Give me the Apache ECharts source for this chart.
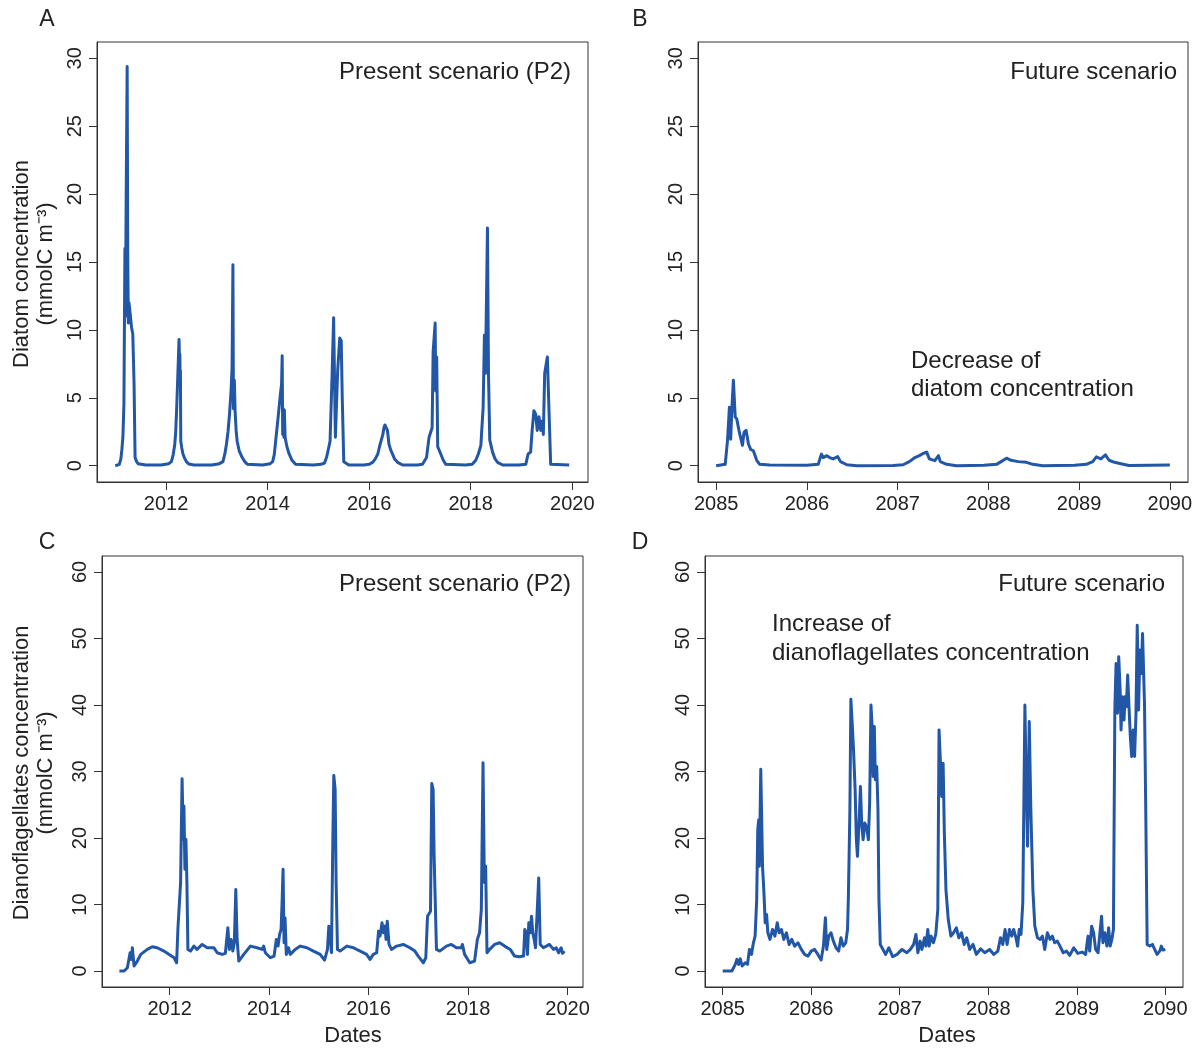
<!DOCTYPE html>
<html>
<head>
<meta charset="utf-8">
<script src="https://cdn.jsdelivr.net/npm/echarts@6.0.0/dist/echarts.min.js"></script>
</head>
<body style="margin:0;background:#fff">
<div id="main" style="width:1198px;height:1052px;"></div>
<script>
// values: [decimal year, mmolC m-3]
var diatomPresent = [
  [2011.0,0],[2011.08,0.1],[2011.11,0.5],[2011.13,1.2],[2011.15,2.1],[2011.17,4.5],[2011.19,16.0],[2011.2,11],[2011.215,20],
  [2011.234,29.4],[2011.245,16],[2011.256,10.5],[2011.27,12],[2011.29,11.3],[2011.32,10.2],[2011.345,9.7],
  [2011.37,6.0],[2011.39,0.6],[2011.42,0.3],[2011.45,0.15],[2011.6,0.05],[2011.9,0.05],
  [2012.05,0.15],[2012.105,0.3],[2012.14,0.8],[2012.17,1.5],[2012.19,2.5],[2012.21,4.3],[2012.235,7.0],[2012.256,9.3],
  [2012.265,7.5],[2012.272,8.2],[2012.278,6.2],[2012.283,7.0],[2012.29,1.8],[2012.31,1.3],[2012.33,0.9],[2012.36,0.6],
  [2012.4,0.3],[2012.45,0.12],[2012.55,0.05],[2012.9,0.05],
  [2013.05,0.15],[2013.12,0.3],[2013.16,0.9],[2013.19,1.6],[2013.22,2.5],[2013.25,3.8],[2013.28,5.5],[2013.30,7.2],[2013.317,14.8],[2013.327,4.2],
  [2013.345,6.3],[2013.36,4.0],[2013.38,2.6],[2013.4,1.8],[2013.44,1.1],[2013.5,0.6],[2013.55,0.3],[2013.6,0.1],[2013.9,0.05],
  [2014.05,0.15],[2014.1,0.3],[2014.13,0.8],[2014.15,1.5],[2014.2,3.3],[2014.25,5.2],[2014.275,6],[2014.287,8.1],
  [2014.297,2.3],[2014.31,4.2],[2014.32,2.1],[2014.33,4.1],[2014.345,2.1],[2014.38,1.4],[2014.42,0.9],[2014.48,0.4],[2014.55,0.1],[2014.9,0.05],
  [2015.05,0.1],[2015.12,0.2],[2015.16,0.6],[2015.19,1.1],[2015.23,1.8],[2015.27,6.7],[2015.30,10.9],[2015.335,2.1],
  [2015.38,7.0],[2015.42,9.4],[2015.45,9.2],[2015.47,5.0],[2015.5,0.3],[2015.6,0.05],[2015.9,0.05],
  [2016.0,0.1],[2016.07,0.25],[2016.12,0.5],[2016.17,0.86],[2016.21,1.5],[2016.24,1.9],[2016.27,2.3],[2016.29,2.8],[2016.31,3.0],[2016.34,2.9],[2016.36,2.6],[2016.39,1.6],
  [2016.42,1.2],[2016.46,0.86],[2016.5,0.5],[2016.56,0.25],[2016.66,0.05],[2016.95,0.05],
  [2017.05,0.1],[2017.13,0.6],[2017.18,2.1],[2017.24,2.8],[2017.26,8.4],[2017.30,10.5],[2017.31,5.5],
  [2017.33,8.0],[2017.35,1.4],[2017.41,0.86],[2017.46,0.4],[2017.51,0.1],[2017.9,0.05],
  [2018.03,0.1],[2018.1,0.4],[2018.15,0.86],[2018.2,1.5],[2018.245,4.3],[2018.27,9.6],[2018.29,6.8],[2018.33,17.5],
  [2018.35,6.8],[2018.375,1.9],[2018.43,1.0],[2018.48,0.5],[2018.53,0.25],[2018.63,0.05],[2018.95,0.05],
  [2019.085,0.1],[2019.13,0.86],[2019.18,1.0],[2019.21,2.6],[2019.245,4.05],[2019.28,3.8],[2019.31,2.6],
  [2019.345,3.6],[2019.38,2.6],[2019.41,3.3],[2019.43,2.3],[2019.457,6.8],[2019.51,8.0],[2019.54,4.3],
  [2019.575,0.1],[2019.94,0.05]
];
var diatomFuture = [
  [2085.0,0],[2085.1,0.1],[2085.125,1.85],[2085.146,4.3],[2085.16,1.95],[2085.176,4.55],[2085.19,6.3],
  [2085.21,3.6],[2085.227,3.45],[2085.256,2.45],[2085.29,1.5],[2085.307,2.45],[2085.33,2.6],[2085.356,1.6],
  [2085.38,1.2],[2085.41,1.1],[2085.43,1.2],[2085.447,0.4],[2085.48,0.1],[2085.59,0.05],[2086.0,0.03],
  [2086.125,0.1],[2086.16,0.85],[2086.18,0.6],[2086.22,0.74],[2086.25,0.6],[2086.29,0.5],[2086.34,0.67],
  [2086.37,0.3],[2086.44,0.07],[2086.55,0.0],[2086.95,0.02],
  [2087.06,0.07],[2087.13,0.3],[2087.19,0.6],[2087.24,0.74],[2087.28,0.9],[2087.32,1.0],[2087.35,0.5],
  [2087.41,0.37],[2087.45,0.74],[2087.47,0.3],[2087.54,0.1],[2087.65,0],[2087.95,0.03],
  [2088.09,0.1],[2088.14,0.3],[2088.2,0.55],[2088.25,0.4],[2088.33,0.3],[2088.42,0.25],[2088.49,0.1],
  [2088.6,0],[2088.95,0.03],
  [2089.08,0.1],[2089.15,0.3],[2089.19,0.65],[2089.24,0.5],[2089.29,0.8],[2089.33,0.4],[2089.39,0.25],
  [2089.46,0.15],[2089.55,0.02],[2090.0,0.05]
];
var dinoPresent = [
  [2010.99,0],[2011.085,0],[2011.15,0.5],[2011.205,2.75],[2011.23,1.75],[2011.25,3.5],[2011.285,0.75],
  [2011.35,1.5],[2011.42,2.5],[2011.55,3.25],[2011.65,3.65],[2011.75,3.5],[2011.885,3.0],[2012.02,2.35],
  [2012.09,2.0],[2012.14,1.25],[2012.167,6.5],[2012.194,6.75],[2012.22,13.3],[2012.25,28.9],[2012.274,19.8],
  [2012.287,24.8],[2012.307,15.3],[2012.327,19.8],[2012.347,13.3],[2012.367,3.25],[2012.42,3.0],
  [2012.487,3.75],[2012.55,3.25],[2012.654,4.0],[2012.755,3.5],[2012.89,3.5],[2012.955,2.75],
  [2013.056,2.5],[2013.12,2.65],[2013.17,6.5],[2013.2,3.25],[2013.236,4.75],[2013.27,3.0],[2013.3,4.25],
  [2013.33,12.25],[2013.356,4.75],[2013.39,1.5],[2013.42,1.25],[2013.49,2.5],[2013.623,3.75],
  [2013.757,3.5],[2013.857,3.25],[2013.89,3.75],[2013.924,2.75],[2014.024,2.0],[2014.1,2.25],
  [2014.145,4.75],[2014.18,3.75],[2014.21,5.5],[2014.24,6.25],[2014.26,10.25],[2014.28,15.3],
  [2014.3,4.25],[2014.32,8.0],[2014.345,2.5],[2014.39,3.5],[2014.425,2.5],[2014.525,3.25],[2014.626,3.75],
  [2014.76,3.5],[2014.89,3.0],[2015.026,2.5],[2015.113,1.65],[2015.173,3.25],[2015.2,6.75],[2015.227,5.25],
  [2015.253,2.75],[2015.28,19.3],[2015.3,29.4],[2015.327,27.3],[2015.347,13.3],[2015.374,3.25],
  [2015.427,3.0],[2015.56,3.75],[2015.695,3.5],[2015.83,3.0],[2015.96,2.5],[2016.028,1.75],[2016.095,2.5],
  [2016.162,2.75],[2016.2,6.0],[2016.23,5.25],[2016.27,7.25],[2016.295,5.75],[2016.33,6.75],[2016.35,4.75],
  [2016.375,7.5],[2016.41,4.0],[2016.46,3.25],[2016.563,3.75],[2016.696,4.0],[2016.83,3.5],[2016.93,3.0],
  [2016.997,2.25],[2017.1,1.25],[2017.15,2.0],[2017.184,8.25],[2017.217,8.5],[2017.244,9.0],[2017.27,28.2],
  [2017.297,27.3],[2017.317,17.3],[2017.337,11.25],[2017.364,3.25],[2017.43,3.0],[2017.564,3.75],
  [2017.664,4.0],[2017.765,3.5],[2017.865,3.5],[2017.885,4.0],[2017.93,2.5],[2018.033,1.25],[2018.13,1.5],
  [2018.186,4.75],[2018.23,5.75],[2018.266,9.25],[2018.3,31.3],[2018.327,13.3],[2018.353,15.8],
  [2018.38,2.75],[2018.433,3.25],[2018.534,4.0],[2018.634,4.25],[2018.734,3.75],[2018.847,3.25],
  [2018.934,2.25],[2019.034,2.15],[2019.115,2.25],[2019.14,6.25],[2019.168,5.75],[2019.194,2.5],
  [2019.22,7.25],[2019.248,5.75],[2019.275,8.25],[2019.3,5.75],[2019.328,4.75],[2019.355,3.5],
  [2019.395,3.75],[2019.42,14.0],[2019.45,4.0],[2019.515,3.5],[2019.635,4.0],[2019.716,3.25],
  [2019.77,3.5],[2019.82,2.75],[2019.87,3.5],[2019.9,2.65],[2019.935,3.0]
];
var dinoFuture = [
  [2085.0,0],[2085.104,0],[2085.142,1.0],[2085.16,1.75],[2085.18,1.0],[2085.198,1.85],[2085.22,0.75],
  [2085.254,1.25],[2085.28,1.0],[2085.302,3.25],[2085.325,2.5],[2085.347,4.25],[2085.366,5.25],
  [2085.384,10.75],[2085.396,21.25],[2085.407,22.75],[2085.414,15.75],[2085.43,30.35],[2085.44,23.25],
  [2085.45,15.75],[2085.466,11.75],[2085.48,7.25],[2085.496,8.5],[2085.51,5.75],[2085.534,4.75],
  [2085.563,6.25],[2085.59,5.25],[2085.616,7.25],[2085.638,5.75],[2085.664,6.25],[2085.69,4.75],
  [2085.72,5.75],[2085.75,4.0],[2085.78,4.75],[2085.813,3.75],[2085.85,4.25],[2085.888,3.25],
  [2085.925,2.5],[2085.963,2.25],[2086.0,3.0],[2086.037,3.25],[2086.075,2.5],[2086.112,1.65],
  [2086.138,3.75],[2086.16,8.0],[2086.175,3.25],[2086.198,5.25],[2086.224,5.75],[2086.25,4.5],
  [2086.28,3.5],[2086.31,3.0],[2086.336,5.0],[2086.362,3.75],[2086.39,4.25],[2086.41,6.25],
  [2086.42,11.25],[2086.437,24.25],[2086.448,40.85],[2086.463,37.25],[2086.478,33.25],[2086.496,27.25],
  [2086.51,19.75],[2086.522,17.25],[2086.54,22.25],[2086.556,27.75],[2086.57,22.25],[2086.586,19.75],
  [2086.604,22.25],[2086.623,21.75],[2086.646,19.75],[2086.66,25.25],[2086.675,40.0],[2086.69,36.25],
  [2086.7,29.25],[2086.713,36.75],[2086.724,28.75],[2086.74,30.75],[2086.754,24.25],[2086.765,10.75],
  [2086.78,4.0],[2086.8,3.5],[2086.84,2.5],[2086.877,3.5],[2086.92,2.15],[2086.97,2.5],[2087.026,3.25],
  [2087.08,2.75],[2087.12,3.25],[2087.157,4.0],[2087.183,5.5],[2087.205,2.75],[2087.23,4.5],
  [2087.25,3.25],[2087.28,5.0],[2087.295,3.75],[2087.317,6.25],[2087.332,3.75],[2087.354,5.25],
  [2087.38,4.25],[2087.407,5.5],[2087.43,9.25],[2087.444,36.25],[2087.46,31.25],[2087.474,26.25],
  [2087.49,31.25],[2087.504,20.75],[2087.522,12.25],[2087.548,7.75],[2087.578,5.25],[2087.608,5.75],
  [2087.64,6.5],[2087.668,5.0],[2087.698,5.75],[2087.728,4.0],[2087.757,5.0],[2087.79,3.25],
  [2087.828,4.0],[2087.866,2.5],[2087.914,3.35],[2087.96,2.75],[2088.015,3.25],[2088.063,2.5],
  [2088.108,3.0],[2088.138,5.0],[2088.164,4.0],[2088.19,6.25],[2088.213,4.0],[2088.24,6.25],
  [2088.265,5.25],[2088.287,6.25],[2088.313,5.0],[2088.332,3.75],[2088.35,6.25],[2088.37,5.5],
  [2088.39,10.25],[2088.414,40.0],[2088.43,27.25],[2088.444,18.75],[2088.463,37.5],[2088.481,24.25],
  [2088.504,12.25],[2088.526,6.75],[2088.556,5.0],[2088.586,4.75],[2088.612,5.25],[2088.638,3.25],
  [2088.668,5.75],[2088.698,4.75],[2088.724,5.25],[2088.75,4.25],[2088.78,4.5],[2088.81,3.75],
  [2088.847,2.75],[2088.884,3.0],[2088.92,2.35],[2088.966,3.5],[2089.011,2.65],[2089.06,2.85],
  [2089.1,2.5],[2089.127,5.25],[2089.146,3.0],[2089.168,6.75],[2089.19,5.75],[2089.213,3.25],
  [2089.24,2.75],[2089.256,2.5],[2089.28,8.25],[2089.295,4.25],[2089.317,5.75],[2089.34,3.75],
  [2089.36,6.5],[2089.377,3.75],[2089.396,4.75],[2089.414,6.25],[2089.43,39.25],[2089.444,46.25],
  [2089.46,38.75],[2089.474,47.25],[2089.49,42.25],[2089.5,36.25],[2089.515,41.25],[2089.534,37.75],
  [2089.545,41.25],[2089.56,39.75],[2089.575,44.5],[2089.59,39.75],[2089.605,35.25],[2089.62,32.25],
  [2089.638,36.25],[2089.653,32.25],[2089.668,38.25],[2089.683,52.0],[2089.698,39.25],[2089.713,48.25],
  [2089.728,44.75],[2089.743,50.75],[2089.758,51.0],[2089.765,40.25],[2089.78,23.25],[2089.795,4.0],
  [2089.825,3.75],[2089.854,4.0],[2089.88,3.25],[2089.907,2.5],[2089.937,3.0],[2089.955,3.75],
  [2089.974,3.15],[2090.0,3.25]
];
var presentTicks = [2012, 2014, 2016, 2018, 2020];
var futureTicks = [2085, 2086, 2087, 2088, 2089, 2090];
var diatomTicks = [0, 5, 10, 15, 20, 25, 30];
var dinoTicks = [0, 10, 20, 30, 40, 50, 60];

var FONT = '"Liberation Sans", Arial, Helvetica, sans-serif';
var TXT = '#222';
var AX = '#333';
var BLUE = '#2256a6';

function xAxis(idx, min, max, ticks) {
  return {
    type: 'value', gridIndex: idx, min: min, max: max,
    axisLine: { show: true, onZero: false, lineStyle: { color: AX, width: 1 } },
    axisTick: { show: true, length: 8, customValues: ticks, lineStyle: { color: AX } },
    axisLabel: { customValues: ticks, margin: 12, fontSize: 20, color: TXT, fontFamily: FONT,
      formatter: function (v) { return String(v); } },
    splitLine: { show: false }
  };
}
function yAxis(idx, min, max, ticks) {
  return {
    type: 'value', gridIndex: idx, min: min, max: max,
    axisLine: { show: true, onZero: false, lineStyle: { color: AX, width: 1 } },
    axisTick: { show: true, length: 8, customValues: ticks, lineStyle: { color: AX } },
    axisLabel: { customValues: ticks, margin: 12, rotate: 90, fontSize: 20, color: TXT, fontFamily: FONT,
      formatter: function (v) { return String(v); } },
    splitLine: { show: false }
  };
}
function line(idx, data) {
  return {
    type: 'line', xAxisIndex: idx, yAxisIndex: idx, data: data,
    showSymbol: false, symbol: 'none', animation: false,
    lineStyle: { color: BLUE, width: 3, join: 'round' }
  };
}
function txt(x, y, s, size, align, rot) {
  return {
    type: 'text', x: x, y: y, rotation: rot || 0,
    style: { text: s, fontSize: size, fontFamily: FONT, fill: TXT,
      align: align, textAlign: align, verticalAlign: 'middle', textVerticalAlign: 'middle' }
  };
}

var gridBase = { show: true, borderColor: AX, borderWidth: 1, backgroundColor: 'transparent', containLabel: false, outerBoundsMode: 'none' };
var grids = [
  Object.assign({ left: 97, top: 42, width: 491, height: 440 }, gridBase),
  Object.assign({ left: 698, top: 42, width: 490, height: 440 }, gridBase),
  Object.assign({ left: 102, top: 556, width: 481, height: 431 }, gridBase),
  Object.assign({ left: 705, top: 556, width: 478, height: 431 }, gridBase)
];

var chart = echarts.init(document.getElementById('main'), null, { renderer: 'canvas' });
chart.setOption({
  backgroundColor: '#fff',
  animation: false,
  grid: grids,
  xAxis: [
    xAxis(0, 2010.64, 2020.31, presentTicks),
    xAxis(1, 2084.8, 2090.2, futureTicks),
    xAxis(2, 2010.64, 2020.31, presentTicks),
    xAxis(3, 2084.8, 2090.2, futureTicks)
  ],
  yAxis: [
    yAxis(0, -1.2, 31.2, diatomTicks),
    yAxis(1, -1.2, 31.2, diatomTicks),
    yAxis(2, -2.4, 62.4, dinoTicks),
    yAxis(3, -2.4, 62.4, dinoTicks)
  ],
  series: [
    line(0, diatomPresent),
    line(1, diatomFuture),
    line(2, dinoPresent),
    line(3, dinoFuture)
  ],
  graphic: [
    txt(47, 20, 'A', 23, 'center'),
    txt(640, 20, 'B', 23, 'center'),
    txt(47, 543, 'C', 23, 'center'),
    txt(640, 543, 'D', 23, 'center'),
    txt(571, 72, 'Present scenario (P2)', 24, 'right'),
    txt(1177, 72, 'Future scenario', 24, 'right'),
    txt(571, 584, 'Present scenario (P2)', 24, 'right'),
    txt(1165, 584, 'Future scenario', 24, 'right'),
    txt(911, 361, 'Decrease of', 24, 'left'),
    txt(911, 389, 'diatom concentration', 24, 'left'),
    txt(772, 624, 'Increase of', 24, 'left'),
    txt(772, 653, 'dianoflagellates concentration', 24, 'left'),
    txt(22, 264, 'Diatom concentration', 22, 'center', Math.PI / 2),
    txt(46, 264, '(mmolC m\u207B\u00B3)', 22, 'center', Math.PI / 2),
    txt(22, 773, 'Dianoflagellates concentration', 22, 'center', Math.PI / 2),
    txt(46, 773, '(mmolC m\u207B\u00B3)', 22, 'center', Math.PI / 2),
    txt(353, 1036, 'Dates', 22, 'center'),
    txt(947, 1036, 'Dates', 22, 'center')
  ]
});
</script>
</body>
</html>
